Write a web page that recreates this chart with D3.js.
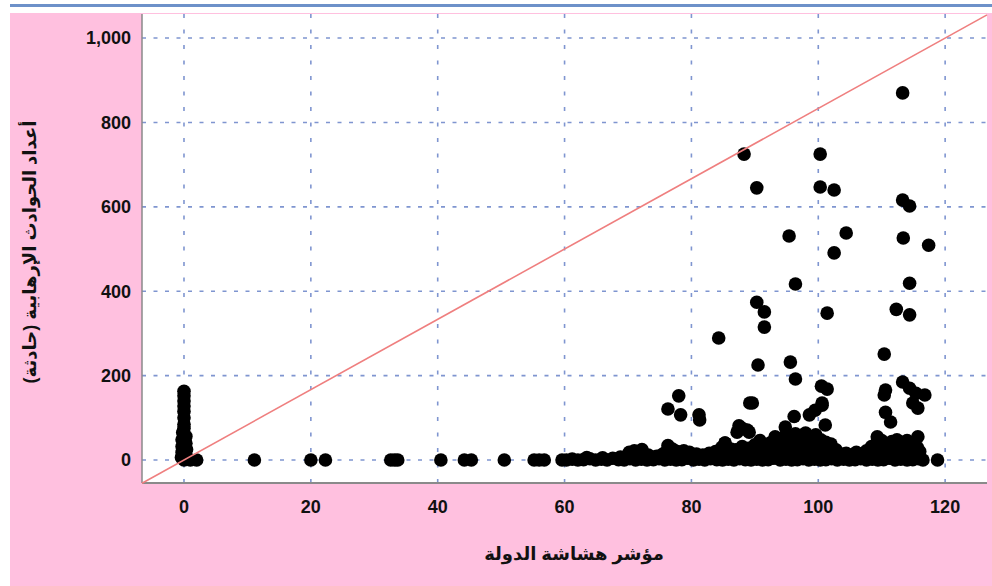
<!DOCTYPE html>
<html>
<head>
<meta charset="utf-8">
<script src="https://cdn.jsdelivr.net/npm/d3@7"></script>
<style>
    body { margin: 0; background: white; }
    svg { display: block; font-family: Arial, "Liberation Sans", "DejaVu Sans", sans-serif; }
</style>
</head>
<body>
<svg id="svg_scatter" width="992" height="586"></svg>
<script>
// fragility index (x) vs number of terrorist incidents (y)
let xTicks = [0, 20, 40, 60, 80, 100, 120];
let yTicks = [0, 200, 400, 600, 800, 1000];
let xTitle = "مؤشر هشاشة الدولة";
let yTitle = "أعداد الحوادث الإرهابية (حادثة)";
let refSlope = 1000 / 120;

// countries with index 0
let zeroGroup = [[0,0],[0.4,3],[-0.4,6],[0.3,12],[-0.3,18],[0.4,25],[-0.3,32],[0.3,40],[-0.3,48],[0.3,56],[-0.2,65],
    [0,75],[0,85],[0,100],[0,115],[0,128],[0,140],[0,152],[0,163],[1.0,0],[2.0,0]];

// sparse points on the zero line
let sparseRow = [[11.1,0],[20.0,0],[22.3,0],[32.6,0],[33.2,0],[33.7,0],[40.5,0],[44.2,0],[45.3,0],[50.5,0],
    [55.2,0],[56.0,0],[56.8,0],[59.6,0]];

// the dense band from 60 to 117
let baseRow = [[60.3,0],[61.2,2],[62.1,0],[63.0,1],[64.0,3],[64.9,0],[65.8,2],[66.7,0],[67.6,4],[68.5,1],
    [69.4,0],[70.3,3],[71.2,0],[72.1,2],[73.0,0],[74.0,1],[74.9,3],[75.8,0],[76.7,2],[77.6,0],[78.5,1],
    [79.4,4],[80.3,0],[81.2,2],[82.1,0],[83.0,3],[84.0,1],[84.9,0],[85.8,2],[86.7,0],[87.6,3],[88.5,1],
    [89.4,0],[90.3,2],[91.2,0],[92.1,1],[93.0,4],[94.0,0],[94.9,2],[95.8,0],[96.7,1],[97.6,3],[98.5,0],
    [99.4,2],[100.3,0],[101.2,1],[102.1,3],[103.0,0],[104.0,2],[104.9,0],[105.8,1],[106.7,3],[107.6,0],
    [108.5,2],[109.4,0],[110.3,1],[111.2,4],[112.1,0],[113.0,2],[114.0,0],[114.9,1],[115.8,3],[116.5,0]];

let middleRow = [[71.5,10],[76.0,18],[77.0,10],[78.5,10],[79.0,8],[84.0,12],[85.0,16],[86.5,12],[87.5,14],
    [88.5,10],[89.5,15],[90.5,18],[91.5,20],[92.3,16],[93.0,28],[94.0,30],[95.0,38],[96.0,34],[97.0,42],
    [98.0,36],[99.0,40],[100.0,32],[101.0,22],[102.0,12],[92.0,28],[96.0,14],[98.5,18],[100.5,12],[108.0,12],
    [109.0,18],[110.5,28],[111.5,26],[112.5,30],[113.5,26],[114.5,30],[115.5,14],[113.0,14],[111.0,10]];

let upperRow = [[63.5,6],[66.0,5],[68.8,7],[70.2,18],[71.0,22],[72.2,25],[73.2,12],[74.5,9],[75.5,14],
    [76.3,34],[77.0,26],[77.8,20],[78.8,22],[79.7,18],[80.8,14],[81.8,12],[82.8,16],[83.8,20],[84.8,30],
    [85.3,40],[86.2,26],[87.0,24],[88.0,32],[89.0,28],[90.0,36],[90.8,46],[91.6,34],[92.4,40],[93.2,52],
    [94.0,44],[94.8,58],[95.6,50],[96.4,62],[97.2,56],[98.0,64],[98.8,54],[99.6,60],[100.4,48],[101.2,42],
    [102.0,38],[102.8,24],[103.6,14],[104.4,16],[105.2,12],[106.0,18],[106.8,14],[107.6,22],[108.4,32],
    [109.2,40],[110.0,46],[110.8,38],[111.6,44],[112.4,48],[113.2,42],[114.0,46],[114.8,40],[115.6,30],
    [116.0,20],[95.0,25],[97.0,30],[99.0,28],[93.8,22],[100.8,24],[91.0,15],[110.0,20],[112.0,22],[114.5,18]];

let outliers = [[88.3,725],[90.3,645],[100.3,725],[100.3,647],[102.5,640],[113.3,870],[113.3,616],[114.4,602],
    [95.4,531],[104.4,538],[102.5,491],[113.4,526],[117.4,509],[96.4,417],[114.4,419],[90.3,374],[91.5,351],
    [101.4,348],[112.3,357],[114.4,344],[91.5,315],[84.3,289],[110.4,251],[90.5,225],[95.6,232],[96.4,192],
    [100.5,175],[101.4,168],[110.6,166],[110.4,154],[113.3,185],[114.4,170],[115.4,158],[116.8,154],
    [114.9,135],[115.7,123],[110.6,113],[111.4,90],[89.2,135],[78.0,152],[76.3,121],[78.3,107],[81.2,107],
    [81.3,95],[100.6,135],[99.5,118],[98.6,107],[96.2,103],[94.8,78],[101.1,83],[88.0,75],[89.1,66],
    [87.2,66],[85.3,40],[93.2,55],[115.7,55],[109.3,55],[118.8,0],[89.6,135],[87.5,81],[88.8,71],[100.6,130]];

class Scatter {

    constructor(groups) {
        this.plot = { left: 142, right: 987, top: 14, bottom: 483 };
        let svg = d3.select("#svg_scatter");

        // window chrome: blue strip and pink panel
        svg.append("rect").attr("x", 10).attr("y", 4).attr("width", 982).attr("height", 3).attr("fill", "#6d91c9");
        svg.append("rect").attr("x", 10).attr("y", 13).attr("width", 982).attr("height", 573).attr("fill", "#ffc0df");

        let xScale = d3.scaleLinear().domain([-6.62, 126.6]).range([this.plot.left, this.plot.right]);
        let yScale = d3.scaleLinear().domain([-54.5, 1057]).range([this.plot.bottom, this.plot.top]);

        svg.append("rect")
            .attr("x", this.plot.left).attr("y", this.plot.top)
            .attr("width", this.plot.right - this.plot.left)
            .attr("height", this.plot.bottom - this.plot.top)
            .attr("fill", "white");

        // grid
        let grid = svg.append("g").attr("id", "grid")
            .attr("stroke", "#7f95d0").attr("stroke-width", 1.6);
        grid.selectAll("line.h").data(yTicks).enter().append("line")
            .attr("class", "h")
            .attr("x1", this.plot.left).attr("x2", this.plot.right)
            .attr("y1", d => yScale(d)).attr("y2", d => yScale(d))
            .attr("stroke-dasharray", "4,7.5");
        grid.selectAll("line.v").data(xTicks).enter().append("line")
            .attr("class", "v")
            .attr("y1", this.plot.top).attr("y2", this.plot.bottom)
            .attr("x1", d => xScale(d)).attr("x2", d => xScale(d))
            .attr("stroke-dasharray", "4,11.5");

        // frame
        svg.append("line").attr("x1", this.plot.left).attr("x2", this.plot.left)
            .attr("y1", this.plot.top).attr("y2", this.plot.bottom)
            .attr("stroke", "#8a8a8a").attr("stroke-width", 1.5);
        svg.append("line").attr("x1", this.plot.left).attr("x2", this.plot.right)
            .attr("y1", this.plot.bottom).attr("y2", this.plot.bottom)
            .attr("stroke", "#8a8a8a").attr("stroke-width", 2);

        // points
        let allPoints = groups.flat();
        svg.append("g").attr("id", "points")
            .selectAll("circle")
            .data(allPoints)
            .enter()
            .append("circle")
                .attr("cx", d => xScale(d[0]))
                .attr("cy", d => yScale(d[1]))
                .attr("r", 6.8)
                .attr("fill", "black");

        // reference line y = slope * x across the whole plot
        let xd = xScale.domain();
        svg.append("line")
            .attr("x1", xScale(xd[0])).attr("y1", yScale(xd[0] * refSlope))
            .attr("x2", xScale(xd[1])).attr("y2", yScale(xd[1] * refSlope))
            .attr("stroke", "#ef7f7f").attr("stroke-width", 1.6);

        // tick labels
        svg.append("g").attr("id", "y-labels")
            .selectAll("text").data(yTicks).enter().append("text")
            .attr("x", 131).attr("y", d => yScale(d))
            .attr("dy", "0.35em")
            .attr("text-anchor", "end")
            .attr("font-size", 18).attr("font-weight", "bold").attr("fill", "#111")
            .text(d => d3.format(",")(d));
        svg.append("g").attr("id", "x-labels")
            .selectAll("text").data(xTicks).enter().append("text")
            .attr("x", d => xScale(d)).attr("y", 507)
            .attr("dy", "0.35em")
            .attr("text-anchor", "middle")
            .attr("font-size", 18).attr("font-weight", "bold").attr("fill", "#111")
            .text(d => d);

        // axis titles
        svg.append("text")
            .attr("x", 574).attr("y", 560)
            .attr("text-anchor", "middle")
            .attr("font-size", 18).attr("font-weight", "bold").attr("fill", "#111")
            .text(xTitle);
        svg.append("text")
            .attr("transform", "translate(30,252) rotate(-90)")
            .attr("text-anchor", "middle")
            .attr("dy", "0.35em")
            .attr("font-size", 18).attr("font-weight", "bold").attr("fill", "#111")
            .text(yTitle);
    }
}

new Scatter([zeroGroup, sparseRow, baseRow, middleRow, upperRow, outliers]);
</script>
</body>
</html>
